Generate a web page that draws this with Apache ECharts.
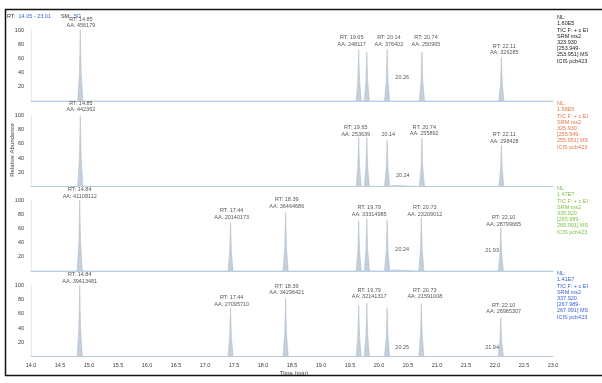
<!DOCTYPE html>
<html>
<head>
<meta charset="utf-8">
<script src="https://cdn.jsdelivr.net/npm/echarts@6/dist/echarts.min.js"></script>
<style>
  html, body { margin: 0; padding: 0; background: #fff; }
  #chart { width: 602px; height: 383px; }
</style>
</head>
<body>
<div id="chart"></div>
<script>
// x ticks (min)
const TIME_MIN = 14.0;
const TIME_MAX = 23.0;
const TIME_STEP = 0.5;
const ABUND_TICKS = [20, 40, 60, 80, 100];

// chromatogram traces, [time, relative abundance]
const trace1 = [
  [14.0, 0],
  [14.805, 0], [14.835, 40], [14.85, 100], [14.865, 40], [14.895, 0],
  [19.605, 0], [19.635, 29], [19.65, 72], [19.665, 29], [19.695, 0],
  [19.745, 0], [19.775, 28], [19.79, 69], [19.805, 28], [19.835, 0],
  [20.095, 0], [20.125, 29], [20.14, 73], [20.155, 29], [20.185, 0],
  [20.23, 0], [20.26, 1.5], [20.29, 0],
  [20.695, 0], [20.725, 28], [20.74, 69], [20.755, 28], [20.785, 0],
  [22.065, 0], [22.095, 24], [22.11, 61], [22.125, 24], [22.155, 0],
  [23.0, 0]
];
const trace2 = [
  [14.0, 0],
  [14.805, 0], [14.835, 40], [14.85, 100], [14.865, 40], [14.895, 0],
  [19.605, 0], [19.635, 28], [19.65, 69], [19.665, 28], [19.695, 0],
  [19.745, 0], [19.775, 28], [19.79, 69], [19.805, 28], [19.835, 0],
  [20.095, 0], [20.125, 26], [20.14, 65], [20.155, 26], [20.185, 0],
  [20.21, 0], [20.24, 1.5], [20.27, 0],
  [20.695, 0], [20.725, 27], [20.74, 68], [20.755, 27], [20.785, 0],
  [22.065, 0], [22.095, 23], [22.11, 58], [22.125, 23], [22.155, 0],
  [23.0, 0]
];
const trace3 = [
  [14.0, 0],
  [14.795, 0], [14.825, 40], [14.84, 100], [14.855, 40], [14.885, 0],
  [17.395, 0], [17.425, 27], [17.44, 68], [17.455, 27], [17.485, 0],
  [18.345, 0], [18.375, 33], [18.39, 83], [18.405, 33], [18.435, 0],
  [19.605, 0], [19.635, 28], [19.65, 71], [19.665, 28], [19.695, 0],
  [19.745, 0], [19.775, 30], [19.79, 74], [19.805, 30], [19.835, 0],
  [20.095, 0], [20.125, 29], [20.14, 72], [20.155, 29], [20.185, 0],
  [20.21, 0], [20.24, 1.5], [20.27, 0],
  [20.685, 0], [20.715, 30], [20.73, 75], [20.745, 30], [20.775, 0],
  [21.9, 0], [21.93, 1.5], [21.96, 0],
  [22.055, 0], [22.085, 24], [22.10, 61], [22.115, 24], [22.145, 0],
  [23.0, 0]
];
const trace4 = [
  [14.0, 0],
  [14.795, 0], [14.825, 40], [14.84, 100], [14.855, 40], [14.885, 0],
  [17.395, 0], [17.425, 27], [17.44, 68], [17.455, 27], [17.485, 0],
  [18.345, 0], [18.375, 33], [18.39, 82], [18.405, 33], [18.435, 0],
  [19.605, 0], [19.635, 29], [19.65, 72], [19.665, 29], [19.695, 0],
  [19.745, 0], [19.775, 30], [19.79, 75], [19.805, 30], [19.835, 0],
  [20.095, 0], [20.125, 28], [20.14, 69], [20.155, 28], [20.185, 0],
  [20.22, 0], [20.25, 1.5], [20.28, 0],
  [20.685, 0], [20.715, 30], [20.73, 75], [20.745, 30], [20.775, 0],
  [21.91, 0], [21.94, 1.5], [21.97, 0],
  [22.055, 0], [22.085, 22], [22.10, 55], [22.115, 22], [22.145, 0],
  [23.0, 0]
];

// peak annotations, [time, abundance, text]
const notes1 = [
  [14.86, 110.6, "RT: 14.85\nAA: 456179"],
  [19.53, 84.5, "RT: 19.65\nAA: 248117"],
  [20.17, 84.5, "RT: 20.14\nAA: 376402"],
  [20.81, 84.5, "RT: 20.74\nAA: 250965"],
  [22.16, 72.5, "RT: 22.11\nAA: 326285"],
  [20.40, 33.8, "20.26"]
];
const notes2 = [
  [14.86, 112.9, "RT: 14.85\nAA: 442362"],
  [19.60, 78, "RT: 19.65\nAA: 253639"],
  [20.16, 73, "20.14"],
  [20.78, 79, "RT: 20.74\nAA: 255892"],
  [22.16, 68.6, "RT: 22.11\nAA: 298428"],
  [20.41, 15, "20.24"]
];
const notes3 = [
  [14.84, 109.7, "RT: 14.84\nAA: 41108112"],
  [17.46, 79.9, "RT: 17.44\nAA: 20140173"],
  [18.41, 95.8, "RT: 18.39\nAA: 36464686"],
  [19.83, 84.7, "RT: 19.79\nAA: 33314985"],
  [20.79, 84.7, "RT: 20.73\nAA: 23209012"],
  [22.15, 70.8, "RT: 22.10\nAA: 28799665"],
  [20.40, 30.6, "20.24"],
  [21.95, 28.2, "21.93"]
];
const notes4 = [
  [14.84, 110.6, "RT: 14.84\nAA: 39413481"],
  [17.46, 78, "RT: 17.44\nAA: 27095710"],
  [18.41, 94.3, "RT: 18.39\nAA: 34296421"],
  [19.83, 88.7, "RT: 19.79\nAA: 32141317"],
  [20.79, 88.7, "RT: 20.73\nAA: 21591008"],
  [22.15, 67.4, "RT: 22.10\nAA: 26985307"],
  [20.40, 12.8, "20.25"],
  [21.95, 12.8, "21.94"]
];

// scan filter blocks on the right
const filters = [
  "NL:\n1.60E5\nTIC F: + c EI\nSRM ms2\n323.930\n[253.949-\n253.951] MS\nICIS pcb423",
  "NL:\n1.58E5\nTIC F: + c EI\nSRM ms2\n325.930\n[255.949-\n255.951] MS\nICIS pcb423",
  "NL:\n1.47E7\nTIC F: + c EI\nSRM ms2\n335.920\n[265.989-\n265.991] MS\nICIS pcb423",
  "NL:\n1.41E7\nTIC F: + c EI\nSRM ms2\n337.920\n[267.989-\n267.991] MS\nICIS pcb423"
];
const filterColors = ["#222222", "#e2774a", "#7dc24a", "#3b62d9"];

const traces = [trace1, trace2, trace3, trace4];
const notes = [notes1, notes2, notes3, notes4];

const FONT = "Liberation Sans, Arial, sans-serif";
const panelTops = [30, 115.5, 200, 285.5];
const panelH = 71;
const filterTops = [14.5, 100.5, 185.5, 270.5];

const chart = echarts.init(document.getElementById("chart"), null, { renderer: "canvas" });

const grids = panelTops.map(t => ({ left: 31, width: 522, top: t, height: panelH }));

const xAxes = panelTops.map((_, i) => ({
  type: "value", gridIndex: i,
  min: TIME_MIN, max: TIME_MAX, interval: TIME_STEP,
  axisLine: { show: true, lineStyle: { color: "#b7d0ea", width: 1 } },
  axisTick: { show: false },
  splitLine: { show: false },
  axisLabel: {
    show: i === 3, color: "#3a3a3a", fontSize: 5.5, fontFamily: FONT, margin: 6,
    formatter: v => v.toFixed(1)
  }
}));

const yAxes = panelTops.map((_, i) => ({
  type: "value", gridIndex: i, min: 0, max: 100, interval: 20,
  axisLine: { show: true, lineStyle: { color: "#e4ecf4", width: 1 } },
  axisTick: { show: false },
  splitLine: { show: false },
  axisLabel: {
    color: "#3a3a3a", fontSize: 5.5, fontFamily: FONT, margin: 7,
    formatter: v => (ABUND_TICKS.includes(v) ? String(v) : "")
  }
}));

const series = [];
traces.forEach((tr, i) => {
  series.push({
    type: "line", xAxisIndex: i, yAxisIndex: i,
    data: tr, symbol: "none", silent: true,
    lineStyle: { width: 0.6, color: "#b3c1cf" },
    areaStyle: { color: "#c3cfdb", opacity: 1 },
    z: 3
  });
});
notes.forEach((ns, i) => {
  series.push({
    type: "scatter", xAxisIndex: i, yAxisIndex: i, clip: false,
    symbolSize: 0, silent: true,
    data: ns.map(n => ({ value: [n[0], n[1]], name: n[2] })),
    label: {
      show: true, position: "inside", formatter: p => p.name,
      color: "#2a2a2a", fontSize: 5.5, fontFamily: FONT, lineHeight: 6.6, align: "center"
    },
    z: 5
  });
});

const graphic = [
  {
    type: "rect", silent: true,
    shape: { x: 5.5, y: 9.5, width: 620, height: 366 },
    style: { fill: "none", stroke: "#111", lineWidth: 1.5 }
  },
  {
    type: "text", left: 7, top: 10,
    style: {
      text: "{a|RT:} {b|14.05 - 23.01}   {a|SM:} {b|5G}",
      rich: {
        a: { fill: "#333", fontSize: 5.5, fontFamily: FONT },
        b: { fill: "#3b62d9", fontSize: 5.5, fontFamily: FONT }
      }
    }
  },
  {
    type: "text", x: 12, y: 150, rotation: Math.PI / 2,
    style: {
      text: "Relative Abundance", fill: "#3a3a3a", fontSize: 6, fontFamily: FONT,
      align: "center", verticalAlign: "middle"
    }
  },
  {
    type: "text", x: 294, y: 373,
    style: {
      text: "Time (min)", fill: "#3a3a3a", fontSize: 6, fontFamily: FONT,
      align: "center", verticalAlign: "middle"
    }
  }
];
filters.forEach((txt, i) => {
  graphic.push({
    type: "text", x: 557, y: filterTops[i],
    style: {
      text: txt, fill: filterColors[i], fontSize: 5.5, fontFamily: FONT, lineHeight: 6.2
    }
  });
});

chart.setOption({
  backgroundColor: "#ffffff",
  animation: false,
  grid: grids,
  xAxis: xAxes,
  yAxis: yAxes,
  series: series,
  graphic: graphic
});
</script>
</body>
</html>
